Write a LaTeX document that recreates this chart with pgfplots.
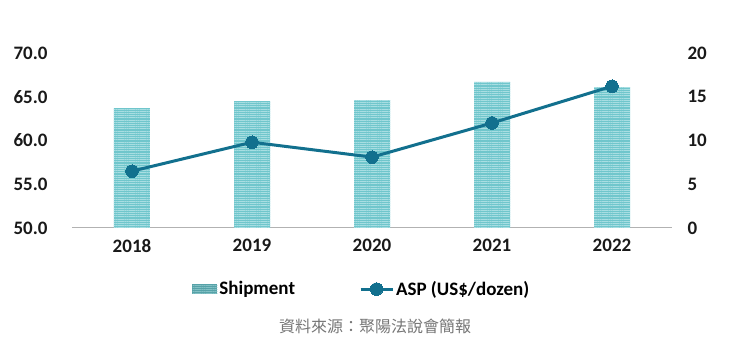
\documentclass[border=0pt]{standalone}
\usepackage{pgfplots}
\pgfplotsset{compat=1.18}
\usepackage{fontspec}
\setmainfont{Carlito}
\newfontfamily\cjk{Noto Sans CJK TC}
\usetikzlibrary{patterns.meta}
\definecolor{barfill}{RGB}{112,198,204}
\definecolor{barline}{RGB}{168,222,226}
\definecolor{legfill}{RGB}{86,162,168}
\definecolor{legline}{RGB}{130,192,196}
\definecolor{aspc}{RGB}{18,112,142}
\definecolor{capgray}{RGB}{118,118,118}
\begin{document}
\begin{tikzpicture}[x=1pt,y=1pt]
\useasboundingbox (0,0) rectangle (740,351);
\pgfplotsset{
  common/.style={
    at={(72pt,123pt)}, anchor=south west, scale only axis,
    width=600pt, height=175pt, xmin=-0.5, xmax=4.5,
    /pgf/number format/assume math mode=true,
    ticklabel style={font=\bfseries\fontsize{19}{19}\selectfont, text=black!90},
    y axis line style={draw=none}, ytick style={draw=none}, xtick style={draw=none},
  }
}
\begin{axis}[common,
  ymin=50, ymax=70, ytick={50,55,60,65,70},
  axis x line*=bottom, axis y line*=left,
  x axis line style={draw=black!30, line width=1pt},
  /pgf/number format/fixed, /pgf/number format/fixed zerofill, /pgf/number format/precision=1,
  yticklabel style={xshift=-21pt},
  xtick={0,1,2,3,4}, xticklabels={2018,2019,2020,2021,2022},
  xticklabel style={yshift=-8pt},
]
\addplot[ybar, bar width=36pt, draw=none, fill=barfill,
  postaction={pattern={Lines[angle=0,distance=2.2pt,line width=0.7pt]}, pattern color=barline}]
  coordinates {(0,63.7) (1,64.5) (2,64.6) (3,66.7) (4,66.1)};
\end{axis}
\begin{axis}[common,
  ymin=0, ymax=20, ytick={0,5,10,15,20},
  axis y line*=right, hide x axis,
  yticklabel style={anchor=west, xshift=12pt},
  legend columns=2,
  legend style={at={(0.483,-0.349)}, anchor=center, draw=none, fill=none,
    font=\bfseries\fontsize{19}{19}\selectfont, /tikz/every even column/.append style={column sep=62pt}},
]
\addlegendimage{draw=none, fill=legfill, legend image code/.code={
  \fill[legfill, draw=none] (0pt,-5pt) rectangle (25pt,5pt);
  \fill[draw=none, pattern={Lines[angle=0,distance=2.2pt,line width=0.7pt]}, pattern color=legline] (0pt,-5pt) rectangle (25pt,5pt);}}
\addlegendentry{Shipment}
\addplot[color=aspc, line width=3pt, mark=*, mark size=6.3pt, mark options={line width=0pt, fill=aspc},
  legend image code/.code={\draw[mark repeat=2,mark phase=2] plot coordinates {(0pt,0pt)(16pt,0pt)(32pt,0pt)};}]
  coordinates {(0,6.5) (1,9.8) (2,8.1) (3,12.0) (4,16.2)};
\addlegendentry{ASP (US\$/dozen)}
\end{axis}
\node[font=\cjk\fontsize{16}{16}\selectfont, text=capgray] at (375,25) {資料來源：聚陽法說會簡報};
\end{tikzpicture}
\end{document}
